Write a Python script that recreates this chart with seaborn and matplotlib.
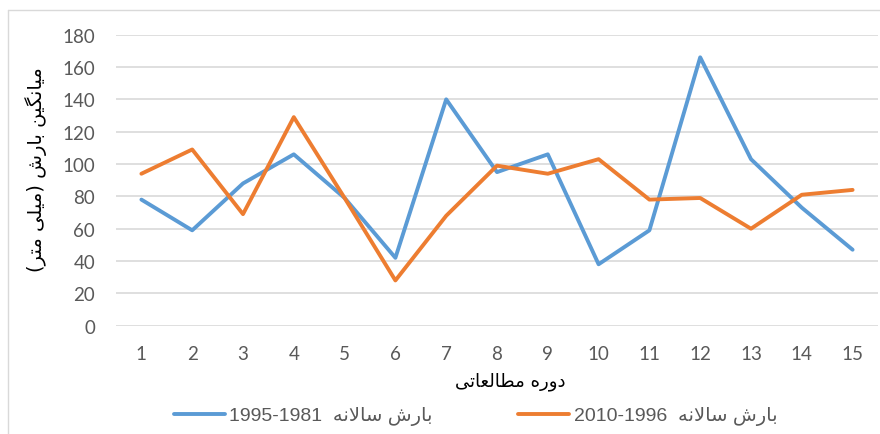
import matplotlib
matplotlib.use("Agg")
import matplotlib.pyplot as plt
from matplotlib.lines import Line2D
import seaborn as sns
import pandas as pd

# data
periods = list(range(1, 16))
rain_1981_1995 = [78, 59, 88, 106, 79, 42, 140, 95, 106, 38, 59, 166, 103, 73, 47]
rain_1996_2010 = [94, 109, 69, 129, 79, 28, 68, 99, 94, 103, 78, 79, 60, 81, 84]
series_names = ["1995-1981", "2010-1996"]
y_ticks = [0, 20, 40, 60, 80, 100, 120, 140, 160, 180]

x_title = "دوره مطالعاتی"
y_title = "میانگین بارش (میلی متر)"
legend_word = "بارش سالانه"

# presentation forms (isolated, final, initial, medial) for the letters used
FORMS = {
    "ا": ("\uFE8D", "\uFE8E", None, None),
    "ب": ("\uFE8F", "\uFE90", "\uFE91", "\uFE92"),
    "ت": ("\uFE95", "\uFE96", "\uFE97", "\uFE98"),
    "د": ("\uFEA9", "\uFEAA", None, None),
    "ر": ("\uFEAD", "\uFEAE", None, None),
    "س": ("\uFEB1", "\uFEB2", "\uFEB3", "\uFEB4"),
    "ش": ("\uFEB5", "\uFEB6", "\uFEB7", "\uFEB8"),
    "ط": ("\uFEC1", "\uFEC2", "\uFEC3", "\uFEC4"),
    "ع": ("\uFEC9", "\uFECA", "\uFECB", "\uFECC"),
    "ل": ("\uFEDD", "\uFEDE", "\uFEDF", "\uFEE0"),
    "م": ("\uFEE1", "\uFEE2", "\uFEE3", "\uFEE4"),
    "ن": ("\uFEE5", "\uFEE6", "\uFEE7", "\uFEE8"),
    "ه": ("\uFEE9", "\uFEEA", "\uFEEB", "\uFEEC"),
    "و": ("\uFEED", "\uFEEE", None, None),
    "ی": ("\uFBFC", "\uFBFD", "\uFBFE", "\uFBFF"),
    "گ": ("\uFB92", "\uFB93", "\uFB94", "\uFB95"),
}


def joins_next(c):
    return c in FORMS and FORMS[c][2] is not None


def rtl(text):
    """Shape Persian letters and put them in visual (left-to-right) order."""
    out = []
    i = 0
    n = len(text)
    while i < n:
        c = text[i]
        if c not in FORMS:
            out.append(c)
            i += 1
            continue
        link_prev = i > 0 and joins_next(text[i - 1])
        if c == "ل" and i + 1 < n and text[i + 1] == "ا":
            out.append("\uFEFC" if link_prev else "\uFEFB")
            i += 2
            continue
        link_next = joins_next(c) and i + 1 < n and text[i + 1] in FORMS
        iso, fin, ini, med = FORMS[c]
        if link_prev and link_next:
            out.append(med)
        elif link_prev:
            out.append(fin)
        elif link_next:
            out.append(ini)
        else:
            out.append(iso)
        i += 1
    vis = "".join(reversed(out))
    return vis.translate(str.maketrans("()", ")("))


df = pd.DataFrame({
    "period": periods * 2,
    "rain": rain_1981_1995 + rain_1996_2010,
    "series": [series_names[0]] * len(periods) + [series_names[1]] * len(periods),
})

sns.set_style("white")
plt.rcParams["font.family"] = ["Liberation Sans", "DejaVu Sans"]

W, H = 880, 435
fig = plt.figure(figsize=(W / 100, H / 100), dpi=100)
ax = fig.add_axes([116 / W, 1 - 326.7 / H, (878 - 116) / W, (326.7 - 35.7) / H])

sns.lineplot(data=df, x="period", y="rain", hue="series", hue_order=series_names,
             palette=["#5B9BD5", "#ED7D31"], linewidth=2.8, legend=False, ax=ax)
for ln in ax.lines:
    ln.set_solid_joinstyle("round")
    ln.set_solid_capstyle("round")

ax.set_xlim(0.5, 15.5)
ax.set_ylim(0, 180)
ax.set_yticks(y_ticks)
ax.set_xticks(periods)
ax.yaxis.grid(True, color="#D9D9D9", linewidth=1.2)
ax.set_axisbelow(True)
for s in ax.spines.values():
    s.set_visible(False)
ax.tick_params(axis="both", length=0, labelcolor="#595959", labelsize=13.5)
ax.tick_params(axis="y", pad=15)
ax.tick_params(axis="x", pad=14)
for lab in ax.get_xticklabels() + ax.get_yticklabels():
    lab.set_family("Lato")
ax.set_xlabel("")
ax.set_ylabel("")

fig.text(510 / W, 1 - 382 / H, rtl(x_title), ha="center", va="center",
         fontsize=13, color="black", family=["DejaVu Sans"])
fig.text(36 / W, 1 - 170 / H, rtl(y_title), ha="center", va="center",
         rotation=90, fontsize=14, color="black", family=["DejaVu Sans"])

labels = [name + "  " + rtl(legend_word) for name in series_names]
fig.legend(ax.lines[:2], labels, loc="center left", bbox_to_anchor=(174 / W, 1 - 417 / H),
           ncol=2, frameon=False, fontsize=14, labelcolor="#595959",
           handlelength=2.6, handletextpad=0.25, columnspacing=4.4,
           borderaxespad=0, borderpad=0)

# chart area border, cropped at right and bottom like the reference
fig.add_artist(Line2D([8 / W, 1], [1 - 11 / H, 1 - 11 / H], transform=fig.transFigure,
                      color="#D9D9D9", linewidth=1))
fig.add_artist(Line2D([8 / W, 8 / W], [0, 1 - 11 / H], transform=fig.transFigure,
                      color="#D9D9D9", linewidth=1))

fig.savefig("out.png", dpi=100)
